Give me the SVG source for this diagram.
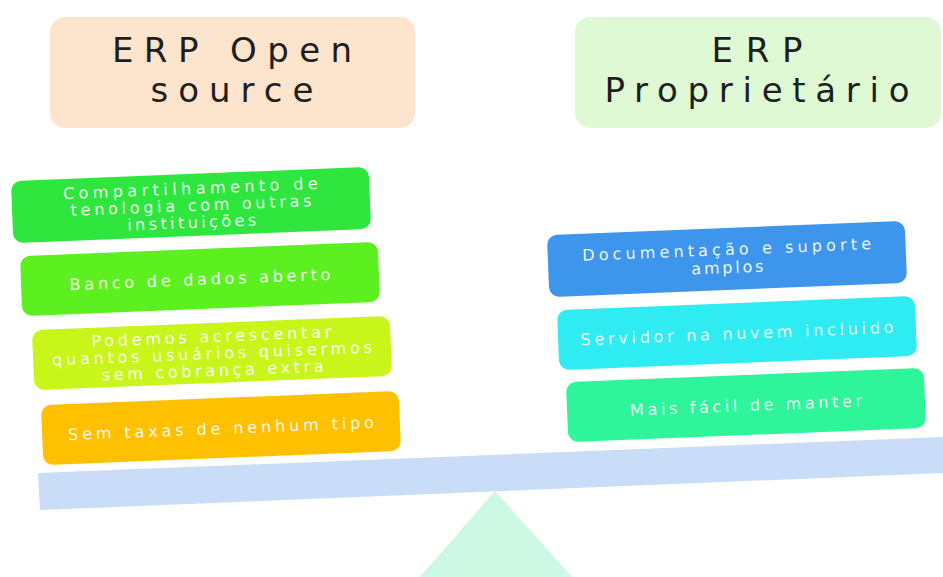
<svg xmlns="http://www.w3.org/2000/svg" width="943" height="577" viewBox="0 0 943 577">
<style>
.hdr{font-family:"DejaVu Sans","Open Sans",sans-serif;font-size:34px;fill:#1e1e1e;text-anchor:middle}
.box{font-family:"DejaVu Sans","Open Sans",sans-serif;font-size:16px;fill:#ffffff;fill-opacity:0.93;text-anchor:middle}
</style>
<rect width="943" height="577" fill="#ffffff"/>
<g id="fulcrum"><polygon points="495,491 420,577 572,577" fill="#ccf8e4"/></g>
<g id="beam"><polygon points="38,473 943,437 943,473 40,510" fill="#c9ddf8"/></g>
<g id="hdr-open">
<rect x="50" y="17" width="365" height="111" rx="15" fill="#fde4cc"/>
<text class="hdr" x="232" y="62" textLength="240" lengthAdjust="spacing">ERP Open</text>
<text class="hdr" x="232" y="102" textLength="163" lengthAdjust="spacing">source</text>
</g>
<g id="hdr-prop">
<rect x="575" y="17" width="366" height="111" rx="15" fill="#def9d3"/>
<text class="hdr" x="757" y="62" textLength="91" lengthAdjust="spacing">ERP</text>
<text class="hdr" x="757" y="102" textLength="305" lengthAdjust="spacing">Proprietário</text>
</g>
<g id="l1" transform="rotate(-2.3 191 205)">
<rect x="12" y="174" width="358" height="62" rx="10" fill="#2ee63e"/>
<text class="box" x="191" y="194" textLength="255" lengthAdjust="spacing">Compartilhamento  de</text>
<text class="box" x="191" y="211" textLength="241" lengthAdjust="spacing">tenologia  com outras</text>
<text class="box" x="191" y="228" textLength="129" lengthAdjust="spacing">instituições</text>
</g>
<g id="l2" transform="rotate(-2.3 200 279)">
<rect x="21" y="249" width="358" height="60" rx="10" fill="#5cf020"/>
<text class="box" x="200" y="285" textLength="261" lengthAdjust="spacing">Banco de dados aberto</text>
</g>
<g id="l3" transform="rotate(-2.3 212 353)">
<rect x="33" y="323" width="358" height="60" rx="10" fill="#c8f51a"/>
<text class="box" x="212" y="342" textLength="240" lengthAdjust="spacing">Podemos acrescentar</text>
<text class="box" x="212" y="359" textLength="320" lengthAdjust="spacing">quantos usuários quisermos</text>
<text class="box" x="212" y="376" textLength="222" lengthAdjust="spacing">sem cobrança extra</text>
</g>
<g id="l4" transform="rotate(-2.3 221 428)">
<rect x="42" y="398" width="358" height="60" rx="10" fill="#ffc000"/>
<text class="box" x="221" y="434" textLength="306" lengthAdjust="spacing">Sem taxas de nenhum tipo</text>
</g>
<g id="r1" transform="rotate(-2.3 727 259)">
<rect x="548" y="228" width="358" height="62" rx="10" fill="#3d96ec"/>
<text class="box" x="727" y="255" textLength="289" lengthAdjust="spacing">Documentação  e suporte</text>
<text class="box" x="727" y="273" textLength="72" lengthAdjust="spacing">amplos</text>
</g>
<g id="r2" transform="rotate(-2.3 737 333)">
<rect x="558" y="303" width="358" height="60" rx="10" fill="#2eecf2"/>
<text class="box" x="737" y="339" textLength="313" lengthAdjust="spacing">Servidor  na nuvem incluido</text>
</g>
<g id="r3" transform="rotate(-2.3 746 405)">
<rect x="567" y="375" width="358" height="60" rx="10" fill="#2ef59a"/>
<text class="box" x="746" y="411" textLength="232" lengthAdjust="spacing">Mais fácil de manter</text>
</g>
<g id="connectors"/>
</svg>
